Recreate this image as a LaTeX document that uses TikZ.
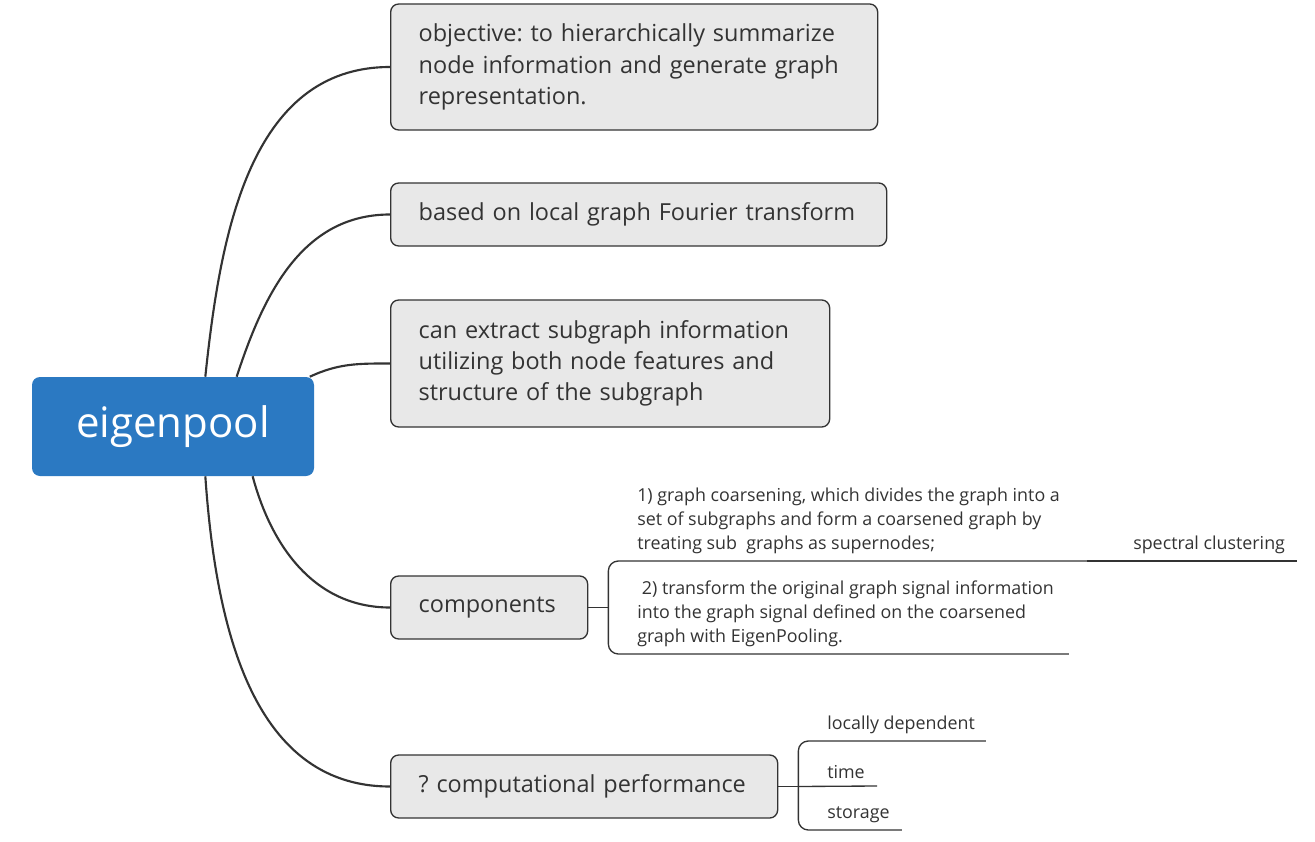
\documentclass[tikz,border=0pt]{standalone}
\usepackage{fontspec}
\setmainfont{Open Sans}
\frenchspacing
\usetikzlibrary{positioning}
\definecolor{rootblue}{RGB}{43,121,194}
\definecolor{boxgray}{RGB}{232,232,232}
\definecolor{inkgray}{RGB}{51,51,51}
\tikzset{
  root/.style={fill=rootblue, rounded corners=6pt, text=white,
    font=\fontsize{31.5}{36}\selectfont, minimum width=211.5pt,
    minimum height=74.25pt, inner sep=0pt},
  topic/.style={draw=inkgray, fill=boxgray, line width=1pt, rounded corners=6pt,
    text=inkgray, align=left, font=\fontsize{17.6}{23.5}\selectfont,
    inner xsep=21pt, inner ysep=0pt, anchor=west},
  sub/.style={text=inkgray, align=left, font=\fontsize{13.4}{18}\selectfont,
    anchor=south west, inner xsep=0pt, inner ysep=5pt},
  branch/.style={draw=inkgray, line width=1.6pt},
  leaf/.style={draw=inkgray, line width=1pt}
}

\begin{document}
\begin{tikzpicture}[x=0.75pt,y=-0.75pt]
       \useasboundingbox (0,0) rectangle (1315,842);
       \node[root] (eig) at (173,426.5) {eigenpool};
       \node[topic, text width=323.25pt, minimum height=94.5pt] (obj) at (390,67)
       {objective: to hierarchically summarize\\node information and generate graph\\representation.};
       \node[topic, text width=330pt, minimum height=47.25pt] (lgft) at (390,214.5)
       {based on local graph Fourier transform};
       \node[topic, text width=287.25pt, minimum height=95.25pt] (ext) at (390,363.5)
       {can extract subgraph information\\utilizing both node features and\\structure of the subgraph};
       \node[topic, text width=105.75pt, minimum height=47.25pt] (comp) at (390,607.5)
       {components};
       \node[topic, text width=248.25pt, minimum height=47.25pt] (perf) at (390,786.5)
       {? computational performance};
       \draw[branch] (eig.57) to[out=84,in=180] (obj.west);
       \draw[branch] (eig.38) to[out=72,in=180] (lgft.west);
       \draw[branch] (eig.20) to[out=25,in=180] (ext.west);
       \draw[branch] (eig.-32) to[out=-75,in=180] (comp.west);
       \draw[branch] (eig.-57) to[out=-86,in=180] (perf.west);
       \node[sub] (coarsen) at (637,561)
       {1) graph coarsening, which divides the graph into a\\set of subgraphs and form a coarsened graph by\\treating sub\ \ graphs as supernodes;};
       \node[sub] (spec) at (1133,561) {spectral clustering};
       \node[sub] (transf) at (637,654)
       {\ 2) transform the original graph signal information\\into the graph signal defined on the coarsened\\graph with EigenPooling.};
       \draw[leaf] (comp.east) -- ++(20,0) coordinate (cj);
       \draw[leaf, rounded corners=7.5pt] ([xshift=20pt]coarsen.south east) -- (coarsen.south -| cj)
       -- (transf.south -| cj) -- ([xshift=11pt]transf.south east);
       \draw[leaf] ([xshift=20pt]coarsen.south east) -- ([xshift=9pt]spec.south east);
       \node[sub] (local) at (827,741) {locally dependent};
       \node[sub] (time) at (827,786) {time};
       \node[sub] (storage) at (827,830) {storage};
       \draw[leaf] (perf.east) -- ++(20,0) coordinate (pj);
       \draw[leaf, rounded corners=7.5pt] ([xshift=8pt]local.south east) -- (local.south -| pj)
       -- (storage.south -| pj) -- ([xshift=9pt]storage.south east);
       \draw[leaf] (pj) -- ([xshift=9pt]time.south east);
\end{tikzpicture}
\end{document}
